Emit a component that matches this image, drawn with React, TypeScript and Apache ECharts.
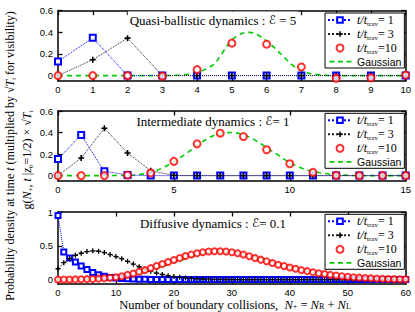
import React, { useEffect, useRef } from 'react';
import * as echarts from 'echarts';

// ---------- data ----------
// Panel 1 : Quasi-ballistic (E = 5), N+ = 0..10
const p1Blue = [0.13, 0.35, 0, 0, 0, 0, 0, 0, 0, 0, 0];
const p1Black = [0, 0.147, 0.346, 0, 0, 0, 0, 0, 0, 0, 0];
const p1Red = [0, 0, 0, -0.005, 0.055, 0.3, 0.29, 0.08, -0.025, -0.02, 0.005];
const p1GaussX = [0, 1, 2, 3, 3.5, 3.75, 4, 4.25, 4.5, 4.75, 5, 5.25, 5.5, 5.75, 6, 6.25, 6.5, 6.75, 7, 7.25, 7.5, 8, 9, 10];
const p1GaussY = [0, 0, 0, 0, 0.005, 0.012, 0.03, 0.06, 0.11, 0.22, 0.33, 0.385, 0.4, 0.375, 0.32, 0.25, 0.17, 0.095, 0.045, 0.02, 0.008, 0, 0, 0];

// Panel 2 : Intermediate (E = 1), N+ = 0..15
const p2Blue = [0.154, 0.378, 0.04, 0.005, 0, 0, 0, 0, 0, 0, 0, 0, 0, 0, 0, 0];
const p2Black = [0, 0.163, 0.44, 0.21, 0.046, 0.002, 0, 0, 0, 0, 0, 0, 0, 0, 0, 0];
const p2Red = [0, 0, 0, 0.005, 0.025, 0.132, 0.295, 0.394, 0.363, 0.24, 0.11, 0.03, 0.002, 0, 0, 0];
const p2GaussX = [0, 1, 2, 2.5, 3, 3.5, 4, 4.5, 5, 5.5, 6, 6.5, 7, 7.5, 8, 8.5, 9, 9.5, 10, 10.5, 11, 11.5, 12, 12.5, 13, 14, 15];
const p2GaussY = [0, 0, 0, 0.001, 0.003, 0.01, 0.03, 0.07, 0.13, 0.2, 0.28, 0.35, 0.39, 0.4, 0.38, 0.33, 0.26, 0.19, 0.12, 0.07, 0.04, 0.02, 0.008, 0.003, 0, 0, 0];

// Panel 3 : Diffusive (E = 0.1), N+ = 0..60
const p3Blue = [
  0.95, 0.41, 0.32, 0.26, 0.2, 0.15, 0.105, 0.072, 0.048, 0.032,
  0.022, 0.016, 0.011, 0.008, 0.006, 0.004, 0.003, 0.002, 0.001, 0.001,
  0, 0, 0, 0, 0, 0, 0, 0, 0, 0,
  0, 0, 0, 0, 0, 0, 0, 0, 0, 0,
  0, 0, 0, 0, 0, 0, 0, 0, 0, 0,
  0, 0, 0, 0, 0, 0, 0, 0, 0, 0,
  0,
];
const p3Black = [
  0.16, 0.25, 0.31, 0.36, 0.39, 0.415, 0.425, 0.42, 0.4, 0.37,
  0.34, 0.31, 0.27, 0.23, 0.19, 0.155, 0.125, 0.097, 0.075, 0.058,
  0.045, 0.034, 0.025, 0.018, 0.013, 0.009, 0.006, 0.004, 0.003, 0.002,
  0.001, 0, 0, 0, 0, 0, 0, 0, 0, 0,
  0, 0, 0, 0, 0, 0, 0, 0, 0, 0,
  0, 0, 0, 0, 0, 0, 0, 0, 0, 0,
  0,
];
const p3Red = [
  0, 0.001, 0.002, 0.003, 0.005, 0.007, 0.01, 0.014, 0.019, 0.026,
  0.035, 0.05, 0.07, 0.09, 0.115, 0.14, 0.17, 0.2, 0.23, 0.26,
  0.29, 0.32, 0.35, 0.37, 0.39, 0.405, 0.415, 0.42, 0.42, 0.415,
  0.405, 0.39, 0.37, 0.345, 0.32, 0.295, 0.27, 0.245, 0.22, 0.2,
  0.18, 0.16, 0.14, 0.125, 0.11, 0.095, 0.082, 0.07, 0.06, 0.05,
  0.042, 0.035, 0.029, 0.024, 0.019, 0.015, 0.012, 0.009, 0.007, 0.005,
  0.004,
];
const p3GaussX = [0, 2, 4, 6, 8, 10, 12, 14, 16, 18, 20, 22, 24, 26, 28, 30, 32, 34, 36, 38, 40, 42, 44, 46, 48, 50, 52, 54, 56, 58, 60];
const p3GaussY = [0, 0.001, 0.003, 0.008, 0.016, 0.03, 0.05, 0.085, 0.13, 0.19, 0.25, 0.31, 0.36, 0.395, 0.415, 0.41, 0.385, 0.34, 0.29, 0.24, 0.19, 0.145, 0.105, 0.072, 0.048, 0.03, 0.018, 0.01, 0.006, 0.003, 0.001];

// tick labels
const p1YTicks = [0, 0.2, 0.4, 0.6];
const p2YTicks = [0, 0.2, 0.4, 0.6];
const p3YTicks = [0, 0.5, 1];

const titles = [
  '{n|Quasi-ballistic dynamics : }{e|ℰ}{n| = 5}',
  '{n|Intermediate dynamics : }{e|ℰ}{n|= 1}',
  '{n|Diffusive dynamics : }{e|ℰ}{n|= 0.1}',
];
const legendNames = ['t1', 't3', 't10', 'Gaussian'];
const legendLabels: Record<string, string> = {
  t1: '{i|t/t}{s|trav}{n|= 1}',
  t3: '{i|t/t}{s|trav}{n|= 3}',
  t10: '{i|t/t}{s|trav}{n|=10}',
  Gaussian: '{g|Gaussian}',
};

// ---------- style ----------
const SERIF = '"Liberation Serif", "Times New Roman", serif';
const SANS = '"Liberation Sans", Arial, sans-serif';
const BLUE = '#0000ff';
const RED = '#ff0000';
const GREEN = '#00cc00';
const BLACK = '#000000';
const PLUS = 'path://M2.2,0h1.6v2.2h2.2v1.6h-2.2v2.2h-1.6v-2.2h-2.2v-1.6h2.2z';
const DASH_ICON = 'path://M0,0h0.01v0.01h-0.01zM1,2.8h5v1.6h-5zM9.5,2.8h5v1.6h-5zM18,2.8h5v1.6h-5zM0,7h0.01v0.01h-0.01z';

const richText = (size: number, lh = size + 2) => ({
  n: { fontFamily: SERIF, fontSize: size, lineHeight: lh, color: BLACK },
  i: { fontFamily: SERIF, fontSize: size, fontStyle: 'italic', lineHeight: lh, color: BLACK },
  e: { fontFamily: '"DejaVu Serif", "DejaVu Sans", serif', fontSize: size - 1, fontStyle: 'italic', lineHeight: lh, color: BLACK },
  s: { fontFamily: SERIF, fontSize: Math.round(size * 0.62), verticalAlign: 'bottom', lineHeight: Math.round(size * 0.5), color: BLACK },
  g: { fontFamily: SANS, fontSize: size - 1.5, lineHeight: lh, color: BLACK },
});

const panels = [
  { top: 10.7, height: 70.3, xMax: 10, xInt: 1, yMin: -0.05, yMax: 0.6, yTicks: p1YTicks, blue: p1Blue, black: p1Black, red: p1Red, gx: p1GaussX, gy: p1GaussY, sq: 6, circ: 7, cw: 1.5, titleY: 20, bg: true },
  { top: 111, height: 70, xMax: 15, xInt: 5, yMin: -0.05, yMax: 0.6, yTicks: p2YTicks, blue: p2Blue, black: p2Black, red: p2Red, gx: p2GaussX, gy: p2GaussY, sq: 6, circ: 7, cw: 1.5, titleY: 121, bg: false },
  { top: 212, height: 72, xMax: 60, xInt: 10, yMin: -0.065, yMax: 1, yTicks: p3YTicks, blue: p3Blue, black: p3Black, red: p3Red, gx: p3GaussX, gy: p3GaussY, sq: 5, circ: 6, cw: 1.3, titleY: 223, bg: false },
];

function buildOption() {
  const grid: any[] = [];
  const xAxis: any[] = [];
  const yAxis: any[] = [];
  const series: any[] = [];
  const legend: any[] = [];
  const graphic: any[] = [];
  const axisLine = { show: true, onZero: false, lineStyle: { color: BLACK, width: 1.5 } };
  const tick = { show: true, inside: true, length: 4.5, lineStyle: { color: BLACK, width: 1.3 } };

  panels.forEach((p, i) => {
    grid.push({ left: 58, top: p.top, width: 347.7, height: p.height });
    const xBase = { type: 'value', gridIndex: i, min: 0, max: p.xMax, interval: p.xInt, axisLine, axisTick: tick, splitLine: { show: false } };
    xAxis.push({ ...xBase, position: 'bottom', axisLabel: { margin: 3.5, color: BLACK, fontFamily: SANS, fontSize: 9.5, lineHeight: 10 } });
    xAxis.push({ ...xBase, position: 'top', axisLabel: { show: false } });
    const yBase = { type: 'value', gridIndex: i, min: p.yMin, max: p.yMax, axisLine, axisTick: { ...tick, customValues: p.yTicks }, splitLine: { show: false } };
    yAxis.push({ ...yBase, position: 'left', axisLabel: { customValues: p.yTicks, margin: 5, color: BLACK, fontFamily: SANS, fontSize: 9.5 } });
    yAxis.push({ ...yBase, position: 'right', axisLabel: { show: false } });

    const xi = 2 * i;
    series.push({
      name: 'Gaussian', type: 'line', xAxisIndex: xi, yAxisIndex: xi, smooth: 0.35, symbol: 'none',
      data: p.gx.map((x, k) => [x, p.gy[k]]),
      lineStyle: { color: GREEN, width: 1.6, type: [5, 4] }, itemStyle: { color: GREEN }, z: 2,
    });
    series.push({
      name: 't1', type: 'line', xAxisIndex: xi, yAxisIndex: xi, symbol: 'emptyRect', symbolSize: p.sq,
      data: p.blue.map((v, k) => [k, v]),
      lineStyle: { color: BLUE, width: 1, type: 'dotted' }, itemStyle: { color: BLUE, borderColor: BLUE, borderWidth: 1.5 }, z: 3,
    });
    series.push({
      name: 't3', type: 'line', xAxisIndex: xi, yAxisIndex: xi, symbol: PLUS, symbolSize: p.sq,
      data: p.black.map((v, k) => [k, v]),
      lineStyle: { color: '#222', width: 1, type: 'dotted' }, itemStyle: { color: BLACK }, z: 4,
    });
    series.push({
      name: 't10', type: 'scatter', xAxisIndex: xi, yAxisIndex: xi, symbol: 'emptyCircle', symbolSize: p.circ,
      data: p.red.map((v, k) => [k, v]),
      itemStyle: { color: RED, borderColor: RED, borderWidth: p.cw }, z: 5,
    });

    legend.push({
      left: 325, top: p.top + 2.3, orient: 'vertical', selectedMode: false,
      backgroundColor: '#fff', borderColor: BLACK, borderWidth: 1, padding: [1, 3, 1, 2],
      itemWidth: 24, itemHeight: 7, itemGap: 1,
      data: legendNames.map((n) => (n === 'Gaussian' ? { name: n, icon: DASH_ICON } : { name: n })),
      formatter: (name: string) => legendLabels[name],
      textStyle: { rich: richText(12) },
    });

    graphic.push({
      type: 'text', x: 213, y: p.titleY, z: 10,
      style: {
        text: titles[i], rich: richText(13), align: 'center', verticalAlign: 'middle',
        backgroundColor: p.bg ? '#fff' : undefined, padding: [1, 2],
      },
    });
  });

  graphic.push({
    type: 'text', x: 10, y: 156, rotation: Math.PI / 2, z: 10,
    style: {
      text: '{n|Probability density at time }{i|t}{n| (multiplied by √}{i|T}{s|t}{n| for visibility)}',
      rich: richText(12), align: 'center', verticalAlign: 'middle',
    },
  });
  graphic.push({
    type: 'text', x: 27, y: 160, rotation: Math.PI / 2, z: 10,
    style: {
      text: '{n|g(}{i|N}{s|+}{n|, }{i|t}{n| |}{i|z}{s|0}{n|=1/2) × √}{i|T}{s|t}',
      rich: richText(12), align: 'center', verticalAlign: 'middle',
    },
  });
  graphic.push({
    type: 'text', x: 235, y: 304.5, z: 10,
    style: {
      text: '{n|Number of boundary collisions,  }{i|N}{s|+}{n| = }{i|N}{s|R}{n| + }{i|N}{s|L}',
      rich: richText(12.5, 12), align: 'center', verticalAlign: 'middle',
    },
  });

  return { animation: false, backgroundColor: '#fff', grid, xAxis, yAxis, series, legend, graphic };
}

export default function App() {
  const ref = useRef<HTMLDivElement>(null);
  useEffect(() => {
    if (!ref.current) return;
    const chart = echarts.init(ref.current, null, { renderer: 'svg' });
    chart.setOption(buildOption() as any);
    return () => chart.dispose();
  }, []);
  return <div ref={ref} style={{ position: 'absolute', left: 0, top: 0, width: 415, height: 312, background: '#fff' }} />;
}
